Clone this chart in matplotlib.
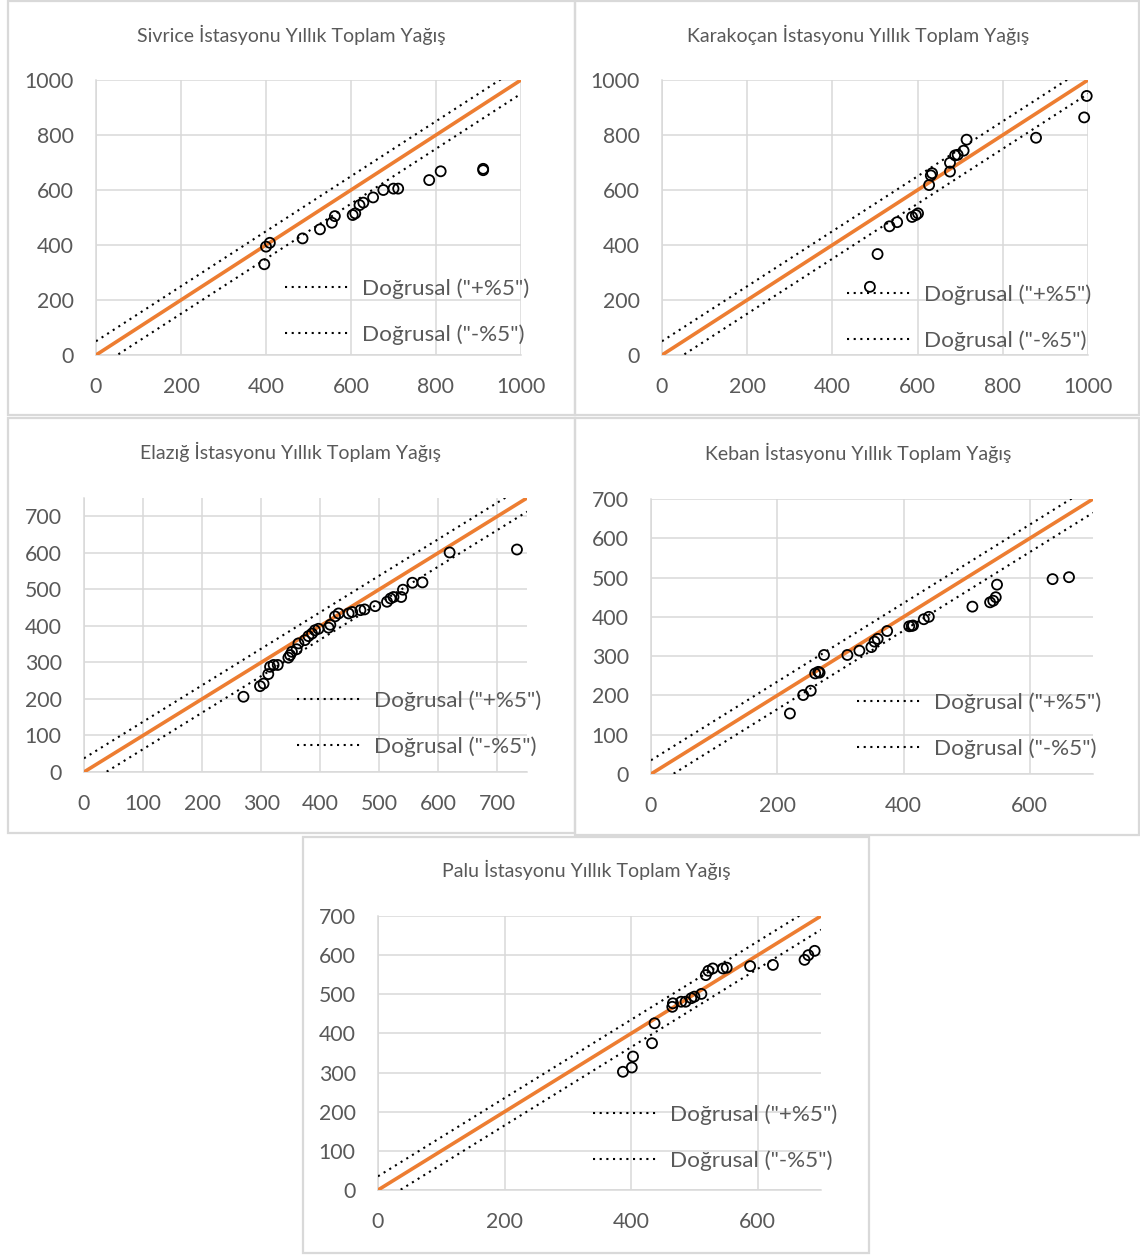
import matplotlib.pyplot as plt
from matplotlib.patches import Rectangle
from matplotlib.lines import Line2D

plt.rcParams['font.family'] = ['Lato', 'DejaVu Sans']

W, H = 1140, 1255

# ── data (observed vs. estimated annual precipitation) ─────────────
sivrice_x = [396, 400, 409, 486, 527, 555, 562, 604, 610, 620, 629, 652,
             676, 700, 711, 784, 811, 911, 911]
sivrice_y = [330, 394, 408, 424, 457, 481, 505, 509, 515, 545, 554, 573,
             600, 605, 605, 636, 668, 677, 672]

karakocan_x = [997, 991, 878, 715, 708, 694, 688, 676, 676, 634, 631, 627,
               601, 596, 587, 552, 534, 506, 488]
karakocan_y = [942, 864, 790, 783, 743, 728, 726, 699, 667, 661, 653, 618,
               515, 509, 502, 483, 468, 367, 248]

elazig_x = [270, 298, 304, 312, 315, 321, 328, 346, 349, 352, 360, 363,
            374, 380, 386, 391, 397, 414, 417, 425, 431, 448, 454, 468,
            475, 493, 513, 519, 524, 537, 540, 556, 573, 619, 733]
elazig_y = [206, 235, 242, 268, 288, 293, 293, 313, 320, 329, 336, 352,
            361, 372, 379, 388, 392, 395, 403, 426, 434, 434, 438, 443,
            445, 454, 466, 475, 479, 479, 499, 518, 519, 601, 609]

keban_x = [220, 241, 253, 260, 265, 267, 274, 311, 330, 349, 354, 359,
           374, 409, 413, 415, 432, 440, 509, 537, 542, 546, 548, 636, 662]
keban_y = [154, 201, 212, 256, 260, 258, 303, 303, 314, 323, 337, 344,
           364, 376, 377, 378, 394, 400, 426, 437, 441, 450, 482, 496, 501]

palu_x = [387, 401, 403, 433, 437, 465, 466, 479, 486, 495, 500, 511,
          518, 522, 529, 545, 551, 588, 624, 674, 680, 690]
palu_y = [302, 313, 341, 375, 426, 468, 477, 481, 481, 490, 494, 501,
          549, 560, 566, 566, 568, 572, 575, 588, 600, 611]

# 1:1 line and the +/-5 % bands (end points)
line_1000 = [0, 1000]
plus_1000 = [50, 1050]
minus_1000 = [-50, 950]
line_750 = [0, 750]
plus_750 = [37.5, 787.5]
minus_750 = [-37.5, 712.5]
line_700 = [0, 700]
plus_700 = [35, 735]
minus_700 = [-35, 665]

titles = ["Sivrice İstasyonu Yıllık Toplam Yağış",
          "Karakoçan İstasyonu Yıllık Toplam Yağış",
          "Elazığ İstasyonu Yıllık Toplam Yağış",
          "Keban İstasyonu Yıllık Toplam Yağış",
          "Palu İstasyonu Yıllık Toplam Yağış"]
legend_labels = ['Doğrusal ("+%5")', 'Doğrusal ("-%5")']

GRID = "#d9d9d9"
TXT = "#595959"
ORANGE = "#ED7D31"
DOTS = (0, (1, 2.2))

fig = plt.figure(figsize=(W / 100, H / 100), dpi=100)
fig.patch.set_facecolor("white")


def frame(l, t, r, b):
    fig.patches.append(Rectangle((l / W, 1 - b / H), (r - l) / W, (b - t) / H,
                                 transform=fig.transFigure, fill=False,
                                 edgecolor=GRID, linewidth=1.6, zorder=0))


def panel(box, xs, ys, ln, pl, mn, lim, xt, yt, title, title_pos, leg_pos):
    l, t, r, b = box
    ax = fig.add_axes([l / W, 1 - b / H, (r - l) / W, (b - t) / H])
    ax.set_xlim(0, lim)
    ax.set_ylim(0, lim)
    ax.set_xticks(xt)
    ax.set_yticks(yt)
    ax.grid(True, color=GRID, linewidth=1.1)
    ax.set_axisbelow(True)
    for s in ("top", "right"):
        ax.spines[s].set_visible(False)
    for s in ("left", "bottom"):
        ax.spines[s].set_color(GRID)
        ax.spines[s].set_linewidth(1.1)
    ax.tick_params(length=0, labelsize=15.3, colors=TXT)
    ax.tick_params(axis="y", pad=16)
    ax.tick_params(axis="x", pad=15.5)

    ax.plot(ln, ln, color=ORANGE, linewidth=2.6, zorder=3)
    ax.plot(ln, pl, color="black", linewidth=1.5, linestyle=DOTS, zorder=3)
    ax.plot(ln, mn, color="black", linewidth=1.5, linestyle=DOTS, zorder=3)
    ax.scatter(xs, ys, s=52, facecolors="none", edgecolors="black",
               linewidths=1.3, zorder=4, clip_on=False)

    handles = [Line2D([], [], color="black", linewidth=1.5, linestyle=DOTS)
               for _ in legend_labels]
    ax.legend(handles, legend_labels, loc="upper left",
              bbox_to_anchor=(leg_pos[0] / W, 1 - leg_pos[1] / H),
              bbox_transform=fig.transFigure, frameon=False, fontsize=16.2,
              labelcolor=TXT, handlelength=2.9, handletextpad=0.5,
              labelspacing=1.16, borderpad=0, borderaxespad=0)

    fig.text(title_pos[0] / W, 1 - title_pos[1] / H, title, ha="center",
             va="center", fontsize=14, color=TXT)


# panel frames
frame(8, 1, 575, 415)
frame(575, 1, 1139, 415)
frame(8, 418, 575, 833)
frame(575, 418, 1139, 835)
frame(303, 837, 869, 1253)

t1000 = [0, 200, 400, 600, 800, 1000]
t100 = [0, 100, 200, 300, 400, 500, 600, 700]
t200 = [0, 200, 400, 600]

panel((96, 80, 521, 355), sivrice_x, sivrice_y, line_1000, plus_1000, minus_1000,
      1000, t1000, t1000, titles[0], (291, 35), (285, 278))
panel((662, 80, 1088, 355), karakocan_x, karakocan_y, line_1000, plus_1000,
      minus_1000, 1000, t1000, t1000, titles[1], (858, 35), (847, 284))
panel((84, 498, 527, 772), elazig_x, elazig_y, line_750, plus_750, minus_750,
      750, t100, t100, titles[2], (291, 452), (297, 690))
panel((651, 499, 1093, 774), keban_x, keban_y, line_700, plus_700, minus_700,
      700, t200, t100, titles[3], (858, 453), (857, 692))
panel((378, 916, 821, 1190), palu_x, palu_y, line_700, plus_700, minus_700,
      700, t200, t100, titles[4], (586, 870), (593, 1104))

fig.savefig("out.png", dpi=100, facecolor="white")
